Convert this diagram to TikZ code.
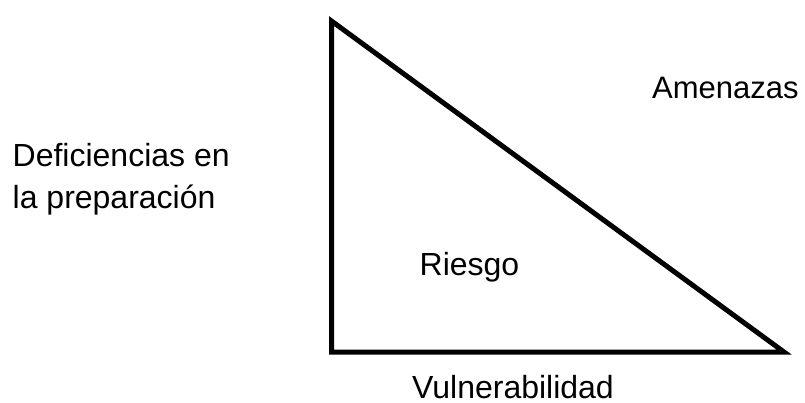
\documentclass[tikz,border=0pt]{standalone}
\usepackage{fontspec}
\setmainfont{Liberation Sans}
\begin{document}
\begin{tikzpicture}[x=1pt,y=-1pt,
  lbl/.style={inner sep=0pt,anchor=base west,font=\fontsize{32}{42}\selectfont},
  edge/.style={line width=5pt,line join=miter,miter limit=10}]
\useasboundingbox (0,0) rectangle (805,402);
\coordinate (top) at (331.5,21);
\coordinate (bl) at (331.5,352);
\coordinate (br) at (784,352);
\draw[edge] (top) -- (bl) -- (br) -- cycle;
\node[lbl,font=\fontsize{31}{42}\selectfont] (amen) at (652,98) {Amenazas};
\node[lbl] (def1) at (12.5,166) {Deficiencias en};
\node[lbl] (def2) at (12.5,208) {la preparación};
\node[lbl] (ries) at (419.5,275) {Riesgo};
\node[lbl] (vuln) at (412,398) {Vulnerabilidad};
\end{tikzpicture}
\end{document}
